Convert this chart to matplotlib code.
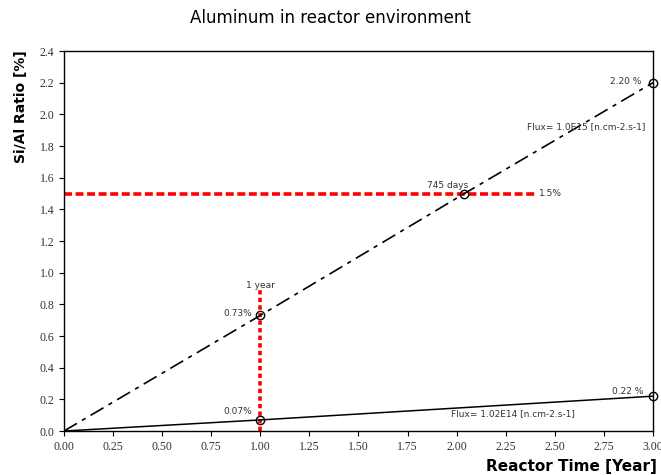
import numpy as np
import matplotlib
matplotlib.use("Agg")
import matplotlib.pyplot as plt

# irradiation time [year] and Si/Al ratio [%] for the two flux levels
t_high = [0.0, 1.0, 2.04, 3.0]
si_high = [0.0, 0.73, 1.50, 2.20]
t_low = [0.0, 1.0, 3.0]
si_low = [0.0, 0.07, 0.22]

# marked points
mark_high_t = [1.0, 2.04, 3.0]
mark_high_v = [0.73, 1.50, 2.20]
mark_low_t = [1.0, 3.0]
mark_low_v = [0.07, 0.22]

# reference guides: 1.5 % level and 1 year
guide_level = 1.5
guide_level_end = 2.41
guide_year = 1.0
guide_year_top = 0.89

fig = plt.figure(figsize=(6.61, 4.75), dpi=100)
ax = fig.add_axes([0.0968, 0.0926, 0.891, 0.80])

ax.plot([0, guide_level_end], [guide_level, guide_level], color="red", lw=2.6,
        ls=(0, (2.2, 1.0)), zorder=2)
ax.plot([guide_year, guide_year], [0, guide_year_top], color="red", lw=2.6,
        ls=(0, (1.2, 0.9)), zorder=2)

ax.plot(t_high, si_high, color="black", lw=1.2, ls=(0, (9, 3.5, 2.5, 3.5)), zorder=3)
ax.plot(t_low, si_low, color="black", lw=1.1, zorder=3)
ax.plot(mark_high_t, mark_high_v, ls="none", marker="o", ms=6, mfc="none",
        mec="black", mew=1.0, zorder=4, clip_on=False)
ax.plot(mark_low_t, mark_low_v, ls="none", marker="o", ms=6, mfc="none",
        mec="black", mew=1.0, zorder=4, clip_on=False)

ann = dict(fontsize=6.5, color="#333333", family="DejaVu Sans")
ax.text(2.94, 2.21, "2.20 %", ha="right", va="center", **ann)
ax.text(2.36, 1.92, "Flux= 1.0E15 [n.cm-2.s-1]", ha="left", va="center", **ann)
ax.text(1.85, 1.55, "745 days", ha="left", va="center", **ann)
ax.text(2.42, 1.5, "1.5%", ha="left", va="center", **ann)
ax.text(1.0, 0.92, "1 year", ha="center", va="center", **ann)
ax.text(0.96, 0.745, "0.73%", ha="right", va="center", **ann)
ax.text(0.96, 0.125, "0.07%", ha="right", va="center", **ann)
ax.text(2.95, 0.25, "0.22 %", ha="right", va="center", **ann)
ax.text(1.97, 0.11, "Flux= 1.02E14 [n.cm-2.s-1]", ha="left", va="center", **ann)

ax.set_xlim(0, 3)
ax.set_ylim(0, 2.4)
ax.set_xticks(np.arange(0, 3.01, 0.25))
ax.set_yticks(np.arange(0, 2.41, 0.2))
ax.set_xticklabels([f"{v:.2f}" for v in np.arange(0, 3.01, 0.25)])
ax.set_yticklabels([f"{v:.1f}" for v in np.arange(0, 2.41, 0.2)])
ax.tick_params(direction="out", length=3.5, width=0.8, labelsize=8.5,
               colors="black", labelcolor="#333333")
for lbl in ax.get_xticklabels() + ax.get_yticklabels():
    lbl.set_family("Liberation Serif")
for sp in ax.spines.values():
    sp.set_linewidth(1.0)

fig.text(0.5, 1 - 18 / 475, "Aluminum in reactor environment", ha="center",
         va="center", fontsize=12, family="DejaVu Sans")
fig.text(0.032, 1 - 50 / 475, "Si/Al Ratio [%]", rotation=90, ha="center",
         va="top", fontsize=10, fontweight="bold", family="DejaVu Sans")
fig.text(0.994, 1 - 466 / 475, "Reactor Time [Year]", ha="right", va="center",
         fontsize=11, fontweight="bold", family="DejaVu Sans")

fig.savefig("out.png", dpi=100)
